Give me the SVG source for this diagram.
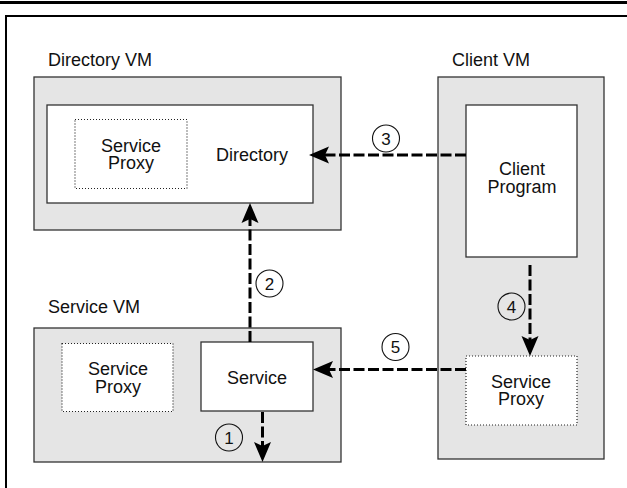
<svg xmlns="http://www.w3.org/2000/svg" width="627" height="488" viewBox="0 0 627 488">
<style>
text{font-family:"Liberation Sans",Arial,sans-serif;font-size:18px;fill:#111}
.c{text-anchor:middle}
.vm{fill:#e5e5e5;stroke:#333;stroke-width:1.3}
.box{fill:#fff;stroke:#333;stroke-width:1.3}
.dot{fill:#fff;stroke:#222;stroke-width:1.2;stroke-dasharray:1 2}
.conn{fill:none;stroke:#000;stroke-width:3;stroke-dasharray:11 3.5}
.num{fill:none;stroke:#111;stroke-width:1.1}
.n{font-size:17px;text-anchor:middle}
</style>
<defs>
<marker id="ah" markerUnits="userSpaceOnUse" markerWidth="22" markerHeight="20" viewBox="0 -10 22 20" refX="4" refY="0" orient="auto">
<path d="M0,-8.5 L20,0 L0,8.5 L4,0 z" fill="#000"/>
</marker>
</defs>
<rect width="627" height="488" fill="#fff"/>
<line x1="0" y1="2.5" x2="627" y2="2.5" stroke="#000" stroke-width="3"/>
<path d="M6,488 V16 H627" fill="none" stroke="#000" stroke-width="2"/>

<g id="directory-vm">
<text x="48" y="66">Directory VM</text>
<rect class="vm" x="34" y="77" width="307" height="153"/>
<g id="directory">
<rect class="box" x="47" y="105" width="266" height="98"/>
<text x="252" y="161" class="c">Directory</text>
</g>
<g id="dir-proxy">
<rect class="dot" x="75" y="119.5" width="112" height="69"/>
<text x="131" y="151.5" class="c">Service</text>
<text x="131" y="169" class="c">Proxy</text>
</g>
</g>

<g id="client-vm">
<text x="452" y="66">Client VM</text>
<rect class="vm" x="438" y="77" width="166" height="382"/>
<g id="client-program">
<rect class="box" x="466" y="105" width="111" height="152"/>
<text x="522" y="175" class="c">Client</text>
<text x="522" y="193" class="c">Program</text>
</g>
<g id="client-proxy">
<rect class="dot" x="466" y="356" width="111" height="69"/>
<text x="521" y="387.5" class="c">Service</text>
<text x="521" y="405" class="c">Proxy</text>
</g>
</g>

<g id="service-vm">
<text x="48" y="313">Service VM</text>
<rect class="vm" x="34" y="328" width="307" height="134"/>
<g id="svc-proxy">
<rect class="dot" x="62" y="343.5" width="111" height="68"/>
<text x="118" y="375" class="c">Service</text>
<text x="118" y="392.5" class="c">Proxy</text>
</g>
<g id="service">
<rect class="box" x="201" y="342" width="112" height="69"/>
<text x="257" y="383.5" class="c">Service</text>
</g>
</g>

<g id="connectors">
<path class="conn" d="M466,155 H325" marker-end="url(#ah)"/>
<path class="conn" d="M250,342 V219" marker-end="url(#ah)"/>
<path class="conn" d="M262.5,412 V446" marker-end="url(#ah)"/>
<path class="conn" d="M530,265 V340" marker-end="url(#ah)"/>
<path class="conn" d="M466,369.5 H329" marker-end="url(#ah)"/>
<circle class="num" cx="386" cy="138.5" r="13.5"/>
<text class="n" x="386" y="144.5">3</text>
<circle class="num" cx="269.5" cy="283.5" r="13.5"/>
<text class="n" x="269.5" y="289.5">2</text>
<circle class="num" cx="229" cy="437.5" r="13.5"/>
<text class="n" x="229" y="443.5">1</text>
<circle class="num" cx="511.5" cy="306.5" r="13.5"/>
<text class="n" x="511.5" y="312.5">4</text>
<circle class="num" cx="395.5" cy="347" r="13.5"/>
<text class="n" x="395.5" y="353">5</text>
</g>
</svg>
